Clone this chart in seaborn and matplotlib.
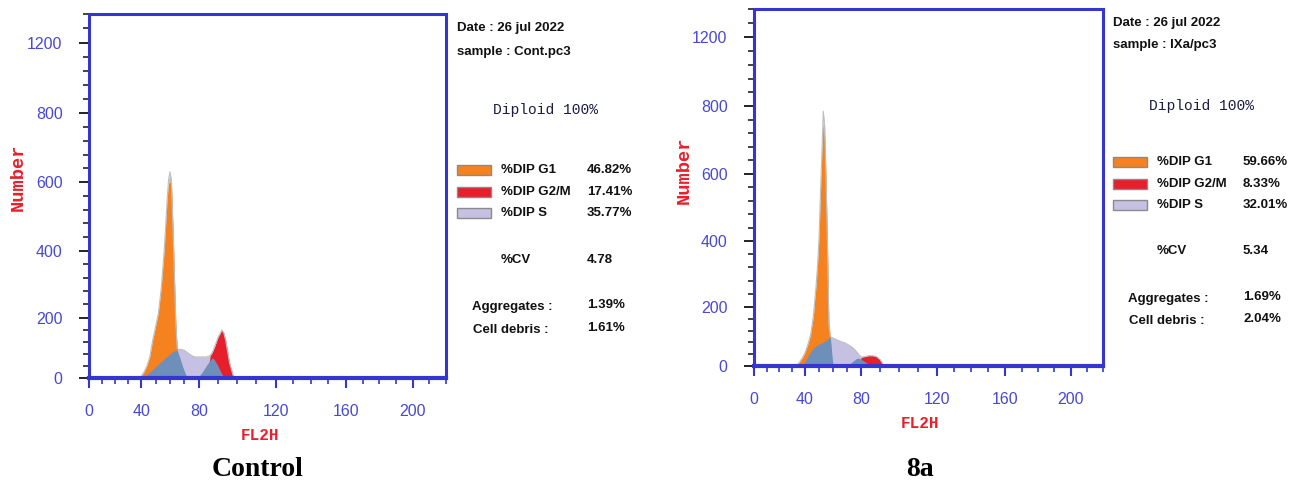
import numpy as np
import pandas as pd
import seaborn as sns
import matplotlib.pyplot as plt
from matplotlib.patches import Rectangle

# ---- data (FL2H channel vs number of cells) ----
ctrl_channel = [36, 38, 40, 42, 44, 46, 48, 50, 52, 54, 56, 57, 58, 59, 60, 61, 62, 63, 64, 65,
                66, 68, 70, 72, 74, 76, 78, 80, 82, 84, 86, 87, 88, 90, 92, 93, 94, 96, 98, 100]
ctrl_total = [0, 0, 5, 20, 40, 70, 125, 170, 215, 290, 400, 470, 545, 605, 630, 605, 480, 340, 190, 100,
              95, 95, 92, 85, 78, 72, 70, 70, 70, 70, 75, 85, 100, 135, 160, 150, 125, 50, 5, 0]
ctrl_g1 = [0, 0, 5, 20, 40, 70, 125, 170, 215, 290, 400, 470, 545, 595, 600, 595, 480, 340, 190, 100,
           0, 0, 0, 0, 0, 0, 0, 0, 0, 0, 0, 0, 0, 0, 0, 0, 0, 0, 0, 0]
ctrl_s = [0, 0, 0, 0, 0, 0, 0, 0, 0, 0, 0, 0, 0, 0, 0, 0, 0, 0, 95, 95,
          95, 95, 92, 85, 78, 72, 70, 70, 70, 70, 70, 70, 65, 0, 0, 0, 0, 0, 0, 0]
ctrl_g2 = [0, 0, 0, 0, 0, 0, 0, 0, 0, 0, 0, 0, 0, 0, 0, 0, 0, 0, 0, 0,
           0, 0, 0, 0, 0, 0, 0, 0, 0, 0, 75, 85, 100, 135, 160, 150, 125, 50, 5, 0]
ctrl_overlap = [0, 0, 0, 3, 12, 20, 28, 38, 46, 55, 63, 68, 72, 76, 80, 84, 87, 90, 92, 92,
                80, 50, 22, 0, 0, 0, 0, 5, 22, 42, 60, 67, 62, 40, 12, 5, 0, 0, 0, 0]

trt_channel = [30, 32, 34, 36, 38, 40, 42, 44, 46, 48, 49, 50, 51, 52, 53, 54, 55, 56, 57, 58,
               59, 60, 62, 64, 66, 68, 70, 72, 74, 76, 78, 80, 82, 84, 86, 88, 90, 92, 94]
trt_total = [0, 0, 3, 15, 28, 45, 72, 105, 170, 270, 330, 410, 540, 660, 785, 740, 580, 380, 140, 100,
             97, 95, 90, 86, 82, 79, 74, 68, 62, 52, 40, 30, 32, 35, 35, 32, 22, 0, 0]
trt_g1 = [0, 0, 3, 15, 28, 45, 72, 105, 170, 270, 330, 410, 540, 660, 745, 705, 580, 380, 140, 100,
          0, 0, 0, 0, 0, 0, 0, 0, 0, 0, 0, 0, 0, 0, 0, 0, 0, 0, 0]
trt_s = [0, 0, 0, 0, 0, 0, 0, 0, 0, 0, 0, 0, 0, 0, 0, 0, 0, 0, 100, 98,
         97, 95, 90, 86, 82, 79, 74, 68, 62, 52, 40, 30, 0, 0, 0, 0, 0, 0, 0]
trt_g2 = [0, 0, 0, 0, 0, 0, 0, 0, 0, 0, 0, 0, 0, 0, 0, 0, 0, 0, 0, 0,
          0, 0, 0, 0, 0, 0, 0, 0, 0, 0, 0, 30, 32, 35, 35, 32, 22, 0, 0]
trt_overlap = [0, 0, 0, 0, 0, 15, 32, 48, 62, 68, 71, 74, 76, 79, 81, 84, 87, 90, 94, 98,
               45, 0, 0, 0, 0, 0, 0, 8, 16, 24, 27, 22, 14, 6, 0, 0, 0, 0, 0]

phase_labels = ["%DIP G1", "%DIP G2/M", "%DIP S"]
ctrl_pct = ["46.82%", "17.41%", "35.77%"]
trt_pct = ["59.66%", "8.33%", "32.01%"]
ctrl_info = {"sample": "Cont.pc3", "cv": "4.78", "agg": "1.39%", "debris": "1.61%"}
trt_info = {"sample": "IXa/pc3", "cv": "5.34", "agg": "1.69%", "debris": "2.04%"}

x_ticks = [0, 40, 80, 120, 160, 200]
y_ticks = [0, 200, 400, 600, 800, 1200]

# the instrument axes are not evenly spaced: piecewise scale from tick positions
x_knots = [-100, 0, 40, 80, 120, 160, 200, 220, 400]
x_pos = [-0.365, 0, 0.146, 0.3075, 0.523, 0.72, 0.907, 1.0, 1.84]
y_knots = [-500, 0, 200, 400, 600, 800, 1200, 1360, 3000]
y_pos = [-0.41, 0, 0.165, 0.350, 0.538, 0.728, 0.921, 1.0, 1.8]

ORANGE = "#f5821f"
RED = "#e61f2b"
LAVENDER = "#c6c1e2"
STEEL = "#6f8fbb"
GREY = "#bfbfbf"
FRAME = "#3535cf"
TICKTXT = "#4848d2"

sns.set_style("white")
plt.rcParams["font.family"] = ["Liberation Sans", "DejaVu Sans"]

W, H = 1292, 487
fig = plt.figure(figsize=(W / 100, H / 100), dpi=100)


def fx(x):
    return x / W


def fy(y):
    return 1 - y / H


def draw_hist(ax, ch, total, g1, s, g2, overlap):
    ax.set_xscale("function", functions=(lambda v: np.interp(v, x_knots, x_pos),
                                         lambda p: np.interp(p, x_pos, x_knots)))
    ax.set_yscale("function", functions=(lambda v: np.interp(v, y_knots, y_pos),
                                         lambda p: np.interp(p, y_pos, y_knots)))
    df = pd.DataFrame({"ch": ch, "total": total})
    ax.fill_between(ch, 0, total, color=GREY, lw=0)
    ax.fill_between(ch, 0, s, color=LAVENDER, lw=0)
    ax.fill_between(ch, 0, g1, color=ORANGE, lw=0)
    ax.fill_between(ch, 0, g2, color=RED, lw=0)
    ax.fill_between(ch, 0, overlap, color=STEEL, lw=0)
    sns.lineplot(data=df, x="ch", y="total", ax=ax, color=GREY, lw=0.8, estimator=None)
    ax.set_xlim(0, 220)
    ax.set_ylim(0, 1360)
    ax.set_xticks(x_ticks)
    ax.set_yticks(y_ticks)
    ax.set_xticks(np.arange(0, 221, 10), minor=True)
    ax.set_yticks(np.concatenate([np.arange(0, 800, 40), np.arange(800, 1361, 80)]), minor=True)
    ax.tick_params(axis="x", which="major", direction="out", length=7, width=1.5, color=FRAME,
                   labelsize=11.5, labelcolor=TICKTXT, pad=12, bottom=True)
    ax.tick_params(axis="x", which="minor", direction="out", length=4, width=1.2, color=FRAME, bottom=True)
    ax.tick_params(axis="y", which="major", direction="out", length=7, width=1.4, color="#222222",
                   labelsize=11.5, labelcolor=TICKTXT, pad=12, left=True)
    ax.tick_params(axis="y", which="minor", direction="out", length=4, width=1.2, color="#222222", left=True)
    ax.set_xlabel("")
    ax.set_ylabel("")
    for side, sp in ax.spines.items():
        sp.set_visible(True)
        sp.set_color(FRAME)
        sp.set_linewidth(2.2)
    ax.spines["bottom"].set_linewidth(3)


ax1 = fig.add_axes([fx(89), fy(378), fx(446 - 89), (378 - 14) / H])
draw_hist(ax1, ctrl_channel, ctrl_total, ctrl_g1, ctrl_s, ctrl_g2, ctrl_overlap)
ax2 = fig.add_axes([fx(754), fy(366), fx(1103 - 754), (366 - 9) / H])
draw_hist(ax2, trt_channel, trt_total, trt_g1, trt_s, trt_g2, trt_overlap)


def info_block(x0, rows, pct, info):
    # rows: y of date, sample, diploid, g1, g2, s, cv, agg, debris
    kw = dict(fontsize=9.5, fontweight="bold", color="#111111", va="center", ha="left")
    fig.text(fx(x0), fy(rows[0]), "Date : 26 jul 2022", **kw)
    fig.text(fx(x0), fy(rows[1]), "sample : " + info["sample"], **kw)
    fig.text(fx(x0 + 36), fy(rows[2]), "Diploid 100%", family="Liberation Mono", fontsize=10.5,
             color="#1c1c44", va="center", ha="left")
    for i, (lab, val, col) in enumerate(zip(phase_labels, pct, [ORANGE, RED, LAVENDER])):
        y = rows[3 + i]
        fig.add_artist(Rectangle((fx(x0), fy(y + 5)), fx(34), 10 / H, facecolor=col,
                                 edgecolor="#8a8a8a", lw=1, transform=fig.transFigure))
        fig.text(fx(x0 + 44), fy(y), lab, **kw)
        fig.text(fx(x0 + 130), fy(y), val, **kw)
    fig.text(fx(x0 + 44), fy(rows[6]), "%CV", **kw)
    fig.text(fx(x0 + 130), fy(rows[6]), info["cv"], **kw)
    fig.text(fx(x0 + 15), fy(rows[7]), "Aggregates :", **kw)
    fig.text(fx(x0 + 130), fy(rows[7] - 2), info["agg"], **kw)
    fig.text(fx(x0 + 16), fy(rows[8]), "Cell debris :", **kw)
    fig.text(fx(x0 + 130), fy(rows[8] - 2), info["debris"], **kw)


info_block(457, [28, 52, 110, 170, 192, 213, 260, 307, 330], ctrl_pct, ctrl_info)
info_block(1113, [23, 45, 106, 162, 184, 205, 251, 299, 321], trt_pct, trt_info)

axis_kw = dict(family="Liberation Mono", fontweight="bold", color="#e8202a")
fig.text(fx(18), fy(177), "Number", rotation=90, fontsize=13.5, ha="center", va="center", **axis_kw)
fig.text(fx(684), fy(170), "Number", rotation=90, fontsize=13.5, ha="center", va="center", **axis_kw)
fig.text(fx(260), fy(436), "FL2H", fontsize=11.5, ha="center", va="center", **axis_kw)
fig.text(fx(920), fy(424), "FL2H", fontsize=11.5, ha="center", va="center", **axis_kw)

cap_kw = dict(family="Liberation Serif", fontweight="bold", fontsize=20, color="black",
              ha="center", va="center")
fig.text(fx(258), fy(470), "Control", **cap_kw)
fig.text(fx(920), fy(470), "8a", **cap_kw)

fig.savefig("out.png", dpi=100)
